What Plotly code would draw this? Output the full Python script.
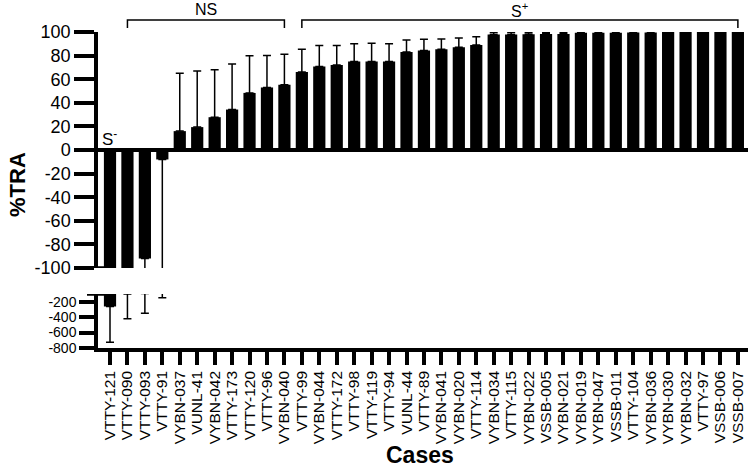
import plotly.graph_objects as go

cases = ["VTTY-121", "VTTY-090", "VTTY-093", "VTTY-91", "VYBN-037", "VUNL-41", "VYBN-042",
         "VTTY-173", "VTTY-120", "VTTY-96", "VYBN-040", "VTTY-99", "VYBN-044", "VTTY-172",
         "VTTY-98", "VTTY-119", "VTTY-94", "VUNL-44", "VTTY-89", "VYBN-041", "VYBN-020",
         "VTTY-114", "VYBN-034", "VTTY-115", "VYBN-022", "VSSB-005", "VYBN-021", "VYBN-019",
         "VYBN-047", "VSSB-011", "VTTY-104", "VYBN-036", "VYBN-030", "VYBN-032", "VTTY-97",
         "VSSB-006", "VSSB-007"]

tra_mean = [-262, -100, -92, -8, 16, 19.4, 27.8, 34.3, 48.4, 53, 55.3, 66, 70.8, 72, 75, 75,
            75, 83, 84.3, 85.4, 87, 89, 97.8, 97.8, 98, 98.3, 98.3, 99.4, 99.4, 99.4, 99.5,
            99.6, 100, 100, 100, 100, 100]
err_plus = [0, 0, 0, 0, 49, 47.6, 40.2, 38.5, 31.4, 27, 25.9, 19.4, 17.7, 16.5, 15, 15.5, 15,
            10.3, 9.5, 8.6, 8, 7, 1.7, 1.7, 1.5, 1.2, 1.2, 0.5, 0.4, 0.4, 0.4, 0.3, 0, 0, 0, 0, 0]
err_minus = [465, 320, 258, 142] + [0] * 33

top_ticks = [-100, -80, -60, -40, -20, 0, 20, 40, 60, 80, 100]
bottom_ticks = [-200, -400, -600, -800]

W, H = 750, 469
FONT = "Liberation Sans, Arial, sans-serif"

def px(x):
    return x / W

def py(y):
    return 1 - y / H

err = dict(type="data", symmetric=False, array=err_plus, arrayminus=err_minus,
           color="black", thickness=1.5, width=4)

fig = go.Figure()
fig.add_trace(go.Bar(x=cases, y=tra_mean, marker=dict(color="black", line=dict(width=0)),
                     error_y=err, xaxis="x", yaxis="y", showlegend=False))
fig.add_trace(go.Bar(x=cases, y=tra_mean, marker=dict(color="black", line=dict(width=0)),
                     error_y=err, xaxis="x2", yaxis="y2", showlegend=False))

xr = [-0.688, 36.58]
fig.update_layout(
    width=W, height=H,
    margin=dict(l=0, r=0, t=0, b=0, autoexpand=False),
    plot_bgcolor="white", paper_bgcolor="white",
    bargap=0.3,
    font=dict(family=FONT, color="black"),
    xaxis=dict(domain=[px(98), px(748)], anchor="y", matches="x2", range=xr,
               showticklabels=False, showline=False, ticks="", showgrid=False,
               zeroline=False),
    xaxis2=dict(domain=[px(98), px(748)], anchor="y2", range=xr, type="category",
                tickmode="array", tickvals=cases, ticktext=cases,
                showline=True, linewidth=3.5, linecolor="black", ticks="outside",
                ticklen=13, tickwidth=3.5, tickcolor="black", tickangle=-90,
                tickfont=dict(size=15.5, family=FONT), showgrid=False, automargin=False),
    yaxis=dict(domain=[py(268), py(32)], range=[-100, 100], tickmode="array",
               tickvals=top_ticks, ticktext=[str(v) for v in top_ticks],
               showline=True, linewidth=3.5, linecolor="black", ticks="outside",
               ticklen=20, tickwidth=3.5, tickcolor="black", tickfont=dict(size=18),
               showgrid=False, zeroline=True, zerolinecolor="black", zerolinewidth=4,
               automargin=False),
    yaxis2=dict(domain=[py(348), py(294)], range=[-800, -100], tickmode="array",
                tickvals=bottom_ticks, ticktext=[str(v) for v in bottom_ticks],
                showline=True, linewidth=3.5, linecolor="black", ticks="outside",
                ticklen=15, tickwidth=3.5, tickcolor="black", tickfont=dict(size=14),
                showgrid=False, zeroline=False, automargin=False),
)

# break marks
for yr in ["y", "y2"]:
    fig.add_shape(type="line", xref="paper", yref=yr, x0=px(87), x1=px(106), y0=-100, y1=-100,
                  line=dict(color="black", width=3.5))

# group brackets
yb_top, yb_bot = py(20), py(28)
for x0, x1 in [(1, 10), (11, 36)]:
    fig.add_shape(type="path", xref="x", yref="paper",
                  path=f"M {x0},{yb_bot} L {x0},{yb_top} L {x1},{yb_top} L {x1},{yb_bot}",
                  line=dict(color="black", width=1.5))

fig.add_annotation(x=5.5, y=py(10), xref="x", yref="paper", text="NS", showarrow=False,
                   font=dict(size=16), yanchor="middle", xanchor="center")
fig.add_annotation(x=23.5, y=py(10), xref="x", yref="paper", text="S<sup>+</sup>",
                   showarrow=False, font=dict(size=16), yanchor="middle", xanchor="center")
fig.add_annotation(x=0, y=10, xref="x", yref="y", text="S<sup>-</sup>", showarrow=False,
                   font=dict(size=17), yanchor="middle", xanchor="center")

fig.add_annotation(x=px(17), y=py(185), xref="paper", yref="paper", text="<b>%TRA</b>",
                   textangle=-90, showarrow=False, font=dict(size=22),
                   xanchor="center", yanchor="middle")
fig.add_annotation(x=px(420), y=0, xref="paper", yref="paper", text="<b>Cases</b>",
                   showarrow=False, font=dict(size=23), yanchor="bottom", xanchor="center",
                   borderpad=0)

fig.write_html("out.html")
